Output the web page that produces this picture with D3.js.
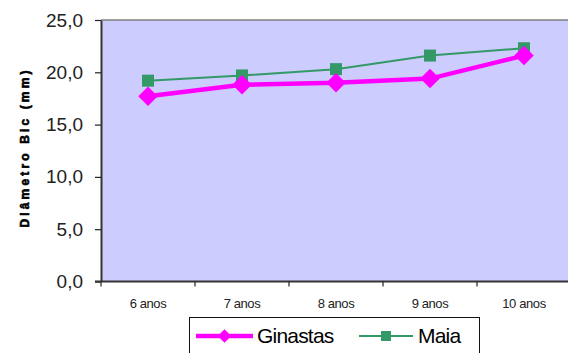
<!DOCTYPE html>
<html>
<head>
<meta charset="utf-8">
<script src="https://cdn.jsdelivr.net/npm/d3@7/dist/d3.min.js"></script>
<style>
  html, body { margin: 0; padding: 0; background: #fff; }
  svg { display: block; font-family: Arial, "Liberation Sans", sans-serif; }
</style>
</head>
<body>
<svg id="chart" width="568" height="353"></svg>
<script>
// Age groups along the x axis
const categories = ["6 anos", "7 anos", "8 anos", "9 anos", "10 anos"];
// Bicondylar diameter (mm) per group
const ginastas = [17.7, 18.8, 19.0, 19.4, 21.6];
const maia = [19.2, 19.7, 20.3, 21.6, 22.3];
const yTicks = [0, 5, 10, 15, 20, 25];
const seriesNames = ["Ginastas", "Maia"];

const svg = d3.select("#chart");
const plot = { left: 101, right: 571, top: 20, bottom: 281.5 };

const x = d3.scaleBand().domain(categories).range([plot.left, plot.right]);
const y = d3.scaleLinear().domain([0, 25]).range([plot.bottom, plot.top]);
const fmt = d => d.toFixed(1).replace(".", ",");

// plot background
svg.append("rect")
  .attr("x", plot.left).attr("y", plot.top)
  .attr("width", plot.right - plot.left).attr("height", plot.bottom - plot.top)
  .attr("fill", "#CCCCFF");
svg.append("line")
  .attr("x1", plot.left).attr("x2", plot.right)
  .attr("y1", plot.top).attr("y2", plot.top)
  .attr("stroke", "#808080").attr("stroke-width", 1.5);

// y axis
const yAxis = svg.append("g")
  .attr("transform", `translate(${plot.left},0)`)
  .call(d3.axisLeft(y).tickValues(yTicks).tickFormat(fmt).tickSize(6).tickSizeOuter(0).tickPadding(12));
yAxis.select(".domain").attr("stroke", "#333").attr("stroke-width", 2);
yAxis.selectAll(".tick line").attr("stroke", "#222").attr("stroke-width", 1.2);
yAxis.selectAll(".tick text")
  .attr("font-size", 19).attr("fill", "#222")
  .attr("font-family", "Arial, 'Liberation Sans', sans-serif");

// x axis with ticks at category boundaries
const boundaries = categories.map(c => x(c)).concat([plot.right]);
const xAxisG = svg.append("g").attr("transform", `translate(0,${plot.bottom})`);
xAxisG.append("line")
  .attr("x1", plot.left - 6).attr("x2", plot.right)
  .attr("stroke", "#333").attr("stroke-width", 2);
xAxisG.selectAll("line.bt").data(boundaries).join("line")
  .attr("class", "bt")
  .attr("x1", d => d).attr("x2", d => d)
  .attr("y1", 0).attr("y2", 5)
  .attr("stroke", "#222").attr("stroke-width", 1.2);
xAxisG.selectAll("text").data(categories).join("text")
  .attr("x", d => x(d) + x.bandwidth() / 2)
  .attr("y", 26)
  .attr("text-anchor", "middle")
  .attr("font-size", 13)
  .attr("letter-spacing", -0.4)
  .attr("fill", "#222")
  .text(d => d);

// y axis title
svg.append("text")
  .attr("transform", "translate(29,149) rotate(-90)")
  .attr("text-anchor", "middle")
  .attr("font-size", 12)
  .attr("font-weight", 900)
  .attr("textLength", 157)
  .attr("lengthAdjust", "spacing")
  .attr("stroke", "#000").attr("stroke-width", 0.6)
  .attr("fill", "#000")
  .text("Diâmetro Bic (mm)");

const cx = c => x(c) + x.bandwidth() / 2;
const line = d3.line().x((d, i) => cx(categories[i])).y(d => y(d));

// Maia series
svg.append("path").datum(maia)
  .attr("d", line).attr("fill", "none")
  .attr("stroke", "#339966").attr("stroke-width", 2);
svg.selectAll("rect.maia").data(maia).join("rect")
  .attr("class", "maia")
  .attr("x", (d, i) => cx(categories[i]) - 6)
  .attr("y", d => y(d) - 6)
  .attr("width", 12).attr("height", 12)
  .attr("fill", "#339966");

// Ginastas series
svg.append("path").datum(ginastas)
  .attr("d", line).attr("fill", "none")
  .attr("stroke", "#FF00FF").attr("stroke-width", 4.5);
svg.selectAll("path.gin").data(ginastas).join("path")
  .attr("class", "gin")
  .attr("transform", (d, i) => `translate(${cx(categories[i])},${y(d)}) rotate(45)`)
  .attr("d", d3.symbol().type(d3.symbolSquare).size(190))
  .attr("fill", "#FF00FF");

// legend
const lg = svg.append("g");
lg.append("rect")
  .attr("x", 189.5).attr("y", 317.5)
  .attr("width", 290).attr("height", 45)
  .attr("fill", "#fff").attr("stroke", "#111").attr("stroke-width", 1);
const legendItems = [
  { name: seriesNames[0], color: "#FF00FF", w: 4.5, x0: 196, x1: 253, tx: 257 },
  { name: seriesNames[1], color: "#339966", w: 2, x0: 359, x1: 413, tx: 418 }
];
legendItems.forEach((it, i) => {
  const my = 336;
  lg.append("line")
    .attr("x1", it.x0).attr("x2", it.x1).attr("y1", my).attr("y2", my)
    .attr("stroke", it.color).attr("stroke-width", it.w);
  const mx = (it.x0 + it.x1) / 2;
  if (i === 0) {
    lg.append("path")
      .attr("transform", `translate(${mx},${my}) rotate(45)`)
      .attr("d", d3.symbol().type(d3.symbolSquare).size(90))
      .attr("fill", it.color);
  } else {
    lg.append("rect")
      .attr("x", mx - 5).attr("y", my - 5).attr("width", 10).attr("height", 10)
      .attr("fill", it.color);
  }
  lg.append("text")
    .attr("x", it.tx).attr("y", 343)
    .attr("font-size", 21)
    .attr("letter-spacing", -0.8)
    .attr("fill", "#000")
    .text(it.name);
});
</script>
</body>
</html>
